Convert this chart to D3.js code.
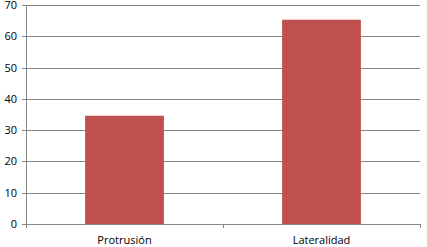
<!DOCTYPE html>
<meta charset="utf-8">
<script src="https://cdn.jsdelivr.net/npm/d3@7"></script>
<style>
    body { margin: 0; background: #fff; }
    .axis text { font-family: "Open Sans", sans-serif; font-size: 11px; fill: #000; }
    .axis path, .axis line { stroke: #868686; shape-rendering: crispEdges; }
    .grid line { stroke: #868686; shape-rendering: crispEdges; }
</style>
<body>
<script>

    var categories = ["Protrusión", "Lateralidad"]
    var values = [34.6, 65.3]
    var yTicks = [0, 10, 20, 30, 40, 50, 60, 70]

    var margin = {left: 26, top: 5}
    var w = 394, h = 219

    var svg = d3.select("body").append("svg").attr("width", 427).attr("height", 247)
        .append("g").attr("transform", "translate(" + margin.left + "," + margin.top + ")")

    var x_scale = d3.scaleBand().domain(categories).range([0, w]).paddingInner(0.6).paddingOuter(0.3)
    var y_scale = d3.scaleLinear().domain([0, 70]).range([h, 0])

    // gridlines
    svg.append("g").attr("class", "grid").selectAll("line").data(yTicks.slice(1)).enter().append("line")
        .attr("x1", 0).attr("x2", w).attr("y1", (d) => Math.round(y_scale(d)) + 0.5).attr("y2", (d) => Math.round(y_scale(d)) + 0.5)

    // bars
    svg.selectAll(".bar").data(values).enter().append("rect").attr("class", "bar")
        .attr("x", (d, i) => x_scale(categories[i]))
        .attr("width", x_scale.bandwidth())
        .attr("y", (d) => y_scale(d))
        .attr("height", (d) => h - y_scale(d))
        .style("fill", "#C0504D")

    // y axis
    var y_axis = d3.axisLeft(y_scale).tickValues(yTicks).tickSize(4).tickPadding(7).tickSizeOuter(0)
    var gy = svg.append("g").attr("class", "axis").call(y_axis)
    gy.selectAll("text").attr("x", -9)

    // x axis with category boundary ticks
    var gx = svg.append("g").attr("class", "axis").attr("transform", "translate(0," + h + ")")
    gx.append("line").attr("x1", 0).attr("x2", w).attr("y1", 0.5).attr("y2", 0.5)
    var bounds = [0, w / 2, w]
    gx.selectAll(".tk").data(bounds).enter().append("line").attr("class", "tk")
        .attr("x1", (d) => Math.round(d) + 0.5).attr("x2", (d) => Math.round(d) + 0.5).attr("y1", 0).attr("y2", 4)
    gx.selectAll(".lbl").data(categories).enter().append("text").attr("class", "lbl")
        .attr("x", (d) => x_scale(d) + x_scale.bandwidth() / 2).attr("y", 20)
        .attr("text-anchor", "middle").text((d) => d)

</script>
</body>
</html>
